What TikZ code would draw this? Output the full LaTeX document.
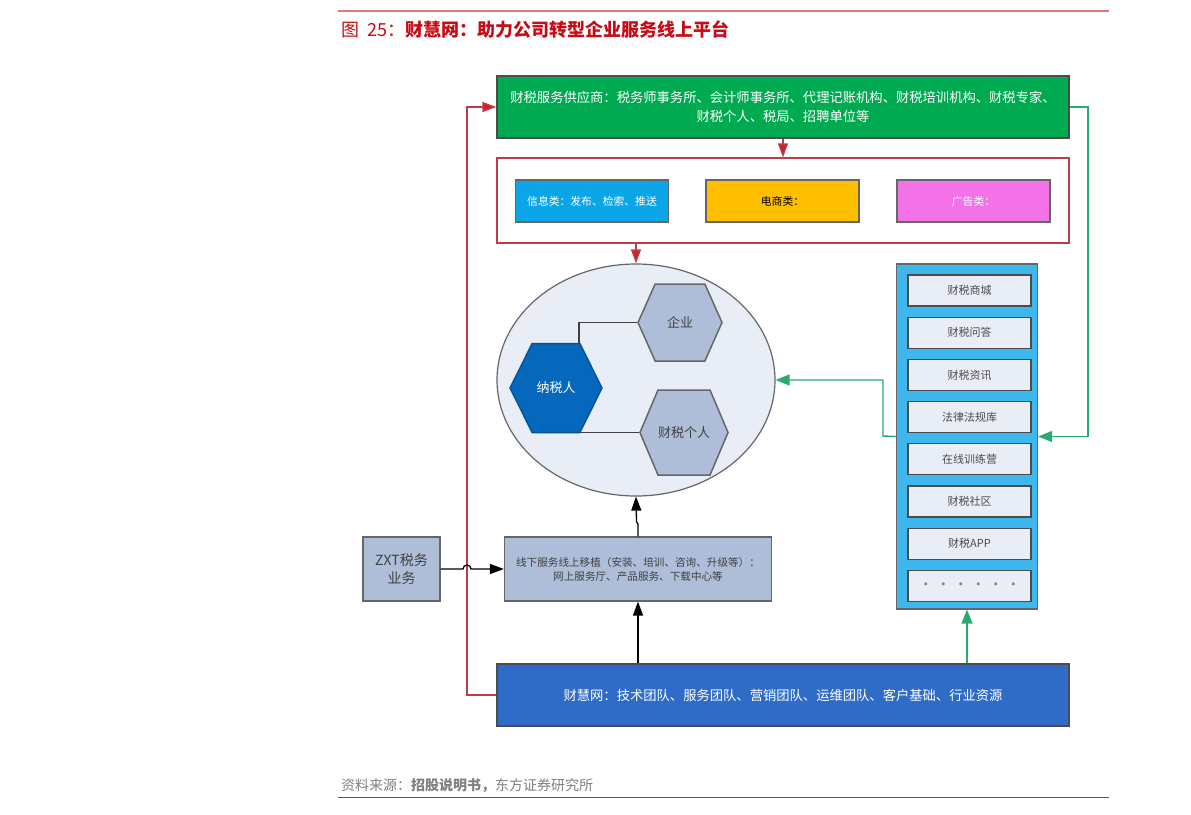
\documentclass[tikz,border=0pt]{standalone}
\usepackage{fontspec}
\setmainfont{Noto Sans CJK SC}
\usepackage{tikz}
\usetikzlibrary{arrows.meta}
\usetikzlibrary{shapes.geometric}
\usetikzlibrary{shapes.symbols}
\definecolor{titlered}{RGB}{200,10,20}
\definecolor{rulered}{RGB}{226,120,120}
\definecolor{framered}{RGB}{186,62,70}
\definecolor{arrowred}{RGB}{208,32,40}
\definecolor{flowgreen}{RGB}{42,170,110}
\definecolor{slate}{RGB}{174,190,216}
\definecolor{pale}{RGB}{232,237,246}
\definecolor{deepblue}{RGB}{5,104,189}
\newcommand{\gapdot}{\textbf{·}\hspace{6.5pt}}
\newcommand{\fcolon}{\symbol{"FF1A}}
\newcommand{\fcomma}{\symbol{"FF0C}}
\newcommand{\fleft}{\symbol{"FF08}}
\newcommand{\fright}{\symbol{"FF09}}
\tikzset{
  box/.style={rectangle,draw=#1,line width=1.2pt,inner sep=0pt,align=center},
  wide/.style={box=black!70,minimum width=572pt,minimum height=62pt,text=white,font=\fontsize{13.3pt}{19pt}\selectfont},
  kind/.style={box=black!60,minimum width=153pt,minimum height=42pt,font=\fontsize{10.8pt}{13pt}\selectfont},
  grey/.style={box=black!60,fill=slate,text=black!75,minimum height=64pt},
  item/.style={box=black!70,fill=pale,text=black!70,minimum width=123pt,minimum height=31pt,font=\fontsize{11pt}{13pt}\selectfont},
  hex/.style={signal,signal to=east and west,signal pointer angle=#1,inner sep=0pt,draw=black!60,line width=1.5pt,fill=slate,text=black!75,font=\fontsize{13pt}{15pt}\selectfont},
  redarrow/.style={draw=framered,line width=1.4pt,-{Triangle[length=14pt,width=10pt,fill=arrowred]}},
  greenarrow/.style={draw=flowgreen,line width=1.4pt,-{Triangle[length=14pt,width=11pt,fill=flowgreen]}},
  blackarrow/.style={draw=black,line width=1.3pt,-{Triangle[length=14pt,width=10pt]}}
}
\begin{document}
\begin{tikzpicture}[x=1pt,y=-1pt]
\useasboundingbox[fill=white] (0,0) rectangle (1191,814);
\coordinate (ruletopl) at (338,11);
\coordinate (ruletopr) at (1109,11);
\coordinate (rulebotl) at (338,797);
\coordinate (rulebotr) at (1109,797);
\draw[rulered,line width=1.2pt] (ruletopl) -- (ruletopr);
\draw[rulered!60!black,line width=0.8pt] (rulebotl) -- (rulebotr);
\path (341,30) node(title) [anchor=west,inner sep=0pt,text=titlered,font=\fontsize{18pt}{20pt}\selectfont]{图\hspace{8pt}25\fcolon\textbf{财慧网\fcolon 助力公司转型企业服务线上平台}};
\path (341,786) node(source) [anchor=west,inner sep=0pt,text=black!50,font=\fontsize{14pt}{16pt}\selectfont]{资料来源\fcolon\textbf{招股说明书\fcomma}东方证券研究所};

\path (783,107) node(suppliers) [wide,fill={rgb,255:red,0;green,170;blue,80}]{财税服务供应商\fcolon 税务师事务所、会计师事务所、代理记账机构、财税培训机构、财税专家、\\财税个人、税局、招聘单位等};
\path (783,200.5) node(frame) [box=framered,fill=white,minimum width=572pt,minimum height=85pt]{};
\path (592,201) node(info) [kind,fill={rgb,255:red,10;green,166;blue,232},text=white]{信息类\fcolon 发布、检索、推送};
\path (782.5,201) node(shop) [kind,fill={rgb,255:red,255;green,190;blue,0},text=black]{电商类\fcolon};
\path (973.5,201) node(ads) [kind,fill={rgb,255:red,244;green,114;blue,232},text=white]{广告类\fcolon};

\path (636,380) node(circle) [ellipse,draw=black!60,line width=1.2pt,fill=pale,inner sep=0pt,minimum width=278pt,minimum height=232pt]{};
\path (680,322.5) node(firm) [hex=132,minimum width=84pt,minimum height=77pt]{企业};
\path (684,432.5) node(person) [hex=134,minimum width=88pt,minimum height=85pt]{财税个人};
\path (556,388) node(payer) [hex=127,minimum width=92pt,minimum height=89pt,fill=deepblue,draw=deepblue!80!black,text=white]{纳税人};

\path (967,436.5) node(column) [box=black!60,fill={rgb,255:red,61;green,183;blue,238},minimum width=141pt,minimum height=345pt]{};
\path (969.5,290.5) node(item1) [item]{财税商城};
\path (969.5,332.7) node(item2) [item]{财税问答};
\path (969.5,374.9) node(item3) [item]{财税资讯};
\path (969.5,417.1) node(item4) [item]{法律法规库};
\path (969.5,459.3) node(item5) [item]{在线训练营};
\path (969.5,501.5) node(item6) [item]{财税社区};
\path (969.5,543.7) node(item7) [item]{财税APP};
\path (969.5,585.9) node(item8) [item,text=black!50]{\gapdot\gapdot\gapdot\gapdot\gapdot\textbf{·}};

\path (401.5,569) node(zxt) [grey,minimum width=77pt,font=\fontsize{14pt}{18pt}\selectfont]{ZXT税务\\业务};
\path (638,569) node(offline) [grey,minimum width=267pt,font=\fontsize{10.6pt}{14pt}\selectfont]{线下服务线上移植\fleft 安装、培训、咨询、升级等\fright\fcolon\\网上服务厅、产品服务、下载中心等};
\path (783,695) node(base) [wide,fill={rgb,255:red,46;green,108;blue,200}]{财慧网\fcolon 技术团队、服务团队、营销团队、运维团队、客户基础、行业资源};

\draw[redarrow] (suppliers.south) -- (frame.north);
\draw[redarrow] (frame.south -| circle.north) -- (circle.north);
\draw[redarrow] (base.west) -| (467,107) -- (suppliers.west);
\draw[greenarrow] (suppliers.east) -- (1088,107) |- (column.east);
\draw[greenarrow] (column.west) -- (883,436) |- (circle.east);
\draw[greenarrow] (base.north -| column.south) -- (column.south);
\draw[blackarrow] (base.north -| offline.south) -- (offline.south);
\coordinate (jog) at (636.5,522);
\draw[blackarrow] (offline.north) -- (638,524) -- (jog) -- (circle.south);
\coordinate (hopa) at (463,569);
\draw[blackarrow] (zxt.east) -- (hopa) arc[start angle=180,end angle=360,radius=4] -- (offline.west);
\draw[black!75,line width=1.3pt] (firm.west) -- (579,322.5) -- (579,343.5);
\draw[black!75,line width=1.3pt] (person.west) -- (579,432.5);
\end{tikzpicture}
\end{document}
